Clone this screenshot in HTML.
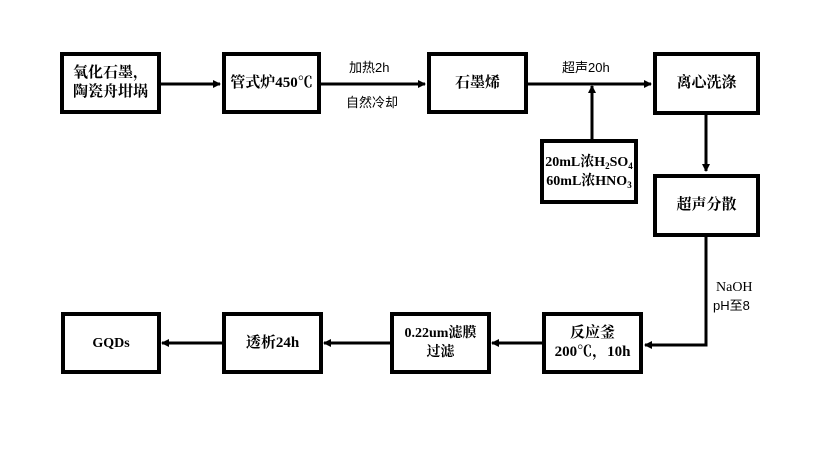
<!DOCTYPE html>
<html><head><meta charset="utf-8"><style>
body{margin:0;width:822px;height:461px;background:#fff;position:relative;overflow:hidden;font-family:"Liberation Serif","Noto Serif CJK SC",serif;}
.b{position:absolute;box-sizing:border-box;border:4px solid #000;display:flex;align-items:center;justify-content:center;text-align:center;font-size:15px;line-height:19px;font-weight:bold;color:#000}
.b>div{white-space:nowrap}
.l{position:absolute;font-family:"Liberation Sans","Noto Sans CJK SC",sans-serif;font-size:13px;color:#000;white-space:nowrap}
sub{font-size:9px;vertical-align:-3px;line-height:0}
</style></head><body>
<svg width="822" height="461" style="position:absolute;left:0;top:0">
<defs><marker id="a" markerWidth="8" markerHeight="8" refX="7" refY="4" orient="auto" markerUnits="userSpaceOnUse"><path d="M0,0L8,4L0,8z" fill="#000"/></marker></defs>
<g stroke="#000" stroke-width="3" fill="none">
<line x1="160" y1="84" x2="220" y2="84" marker-end="url(#a)"/>
<line x1="320" y1="84" x2="425" y2="84" marker-end="url(#a)"/>
<line x1="527" y1="84" x2="651" y2="84" marker-end="url(#a)"/>
<line x1="592" y1="139" x2="592" y2="86" marker-end="url(#a)"/>
<line x1="706" y1="115" x2="706" y2="171" marker-end="url(#a)"/>
<polyline points="706,237 706,345 645,345" marker-end="url(#a)"/>
<line x1="542" y1="343" x2="492" y2="343" marker-end="url(#a)"/>
<line x1="390" y1="343" x2="324" y2="343" marker-end="url(#a)"/>
<line x1="222" y1="343" x2="162" y2="343" marker-end="url(#a)"/>
</g></svg>
<div class="b" style="left:60px;top:52px;width:101px;height:62px"><div>氧化石墨，<br>陶瓷舟坩埚</div></div>
<div class="b" style="left:222px;top:52px;width:99px;height:62px"><div>管式炉450℃</div></div>
<div class="b" style="left:427px;top:52px;width:101px;height:62px"><div>石墨烯</div></div>
<div class="b" style="left:653px;top:52px;width:107px;height:63px"><div>离心洗涤</div></div>
<div class="b" style="left:540px;top:139px;width:98px;height:65px;font-size:14px"><div>20mL浓H<sub>2</sub>SO<sub>4</sub><br>60mL浓HNO<sub>3</sub></div></div>
<div class="b" style="left:653px;top:174px;width:107px;height:63px"><div>超声分散</div></div>
<div class="b" style="left:61px;top:312px;width:100px;height:62px;font-size:14px"><div>GQDs</div></div>
<div class="b" style="left:222px;top:312px;width:101px;height:62px"><div>透析24h</div></div>
<div class="b" style="left:390px;top:312px;width:101px;height:62px;font-size:14px"><div>0.22um滤膜<br>过滤</div></div>
<div class="b" style="left:542px;top:312px;width:101px;height:62px"><div>反应釜<br>200℃，10h</div></div>
<div class="l" style="left:349px;top:57px">加热2h</div>
<div class="l" style="left:346px;top:92px">自然冷却</div>
<div class="l" style="left:562px;top:57px">超声20h</div>
<div class="l" style="left:716px;top:280px;font-family:'Liberation Serif',serif;font-size:14px">NaOH</div>
<div class="l" style="left:713px;top:295px">pH至8</div>
</body></html>
